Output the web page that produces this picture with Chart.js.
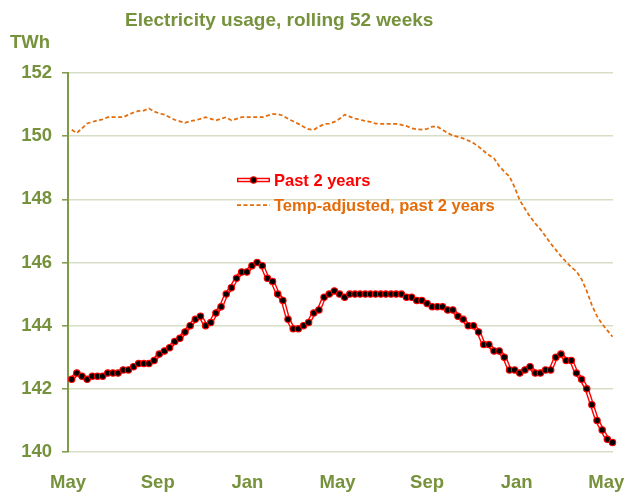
<!DOCTYPE html>
<html><head><meta charset="utf-8">
<script src="https://cdn.jsdelivr.net/npm/chart.js@4.4.1/dist/chart.umd.min.js"></script>
<style>
html,body{margin:0;padding:0;background:#fff;}
#wrap{position:relative;width:624px;height:492px;overflow:hidden;}
canvas{position:absolute;left:0;top:0;}
.t{position:absolute;font-family:"Liberation Sans",Arial,sans-serif;font-weight:bold;color:#76923C;white-space:nowrap;}
#title{left:125px;top:9px;font-size:19px;line-height:22px;}
#unit{left:10px;top:31px;font-size:18.5px;line-height:22px;}
</style></head><body>
<div id="wrap"><canvas id="c" width="624" height="492"></canvas>
<div class="t" id="title">Electricity usage, rolling 52 weeks</div>
<div class="t" id="unit">TWh</div></div>
<script>
// ---- data ----
const seriesNames = ['Past 2 years', 'Temp-adjusted, past 2 years'];
const actual = [142.3,142.5,142.4,142.3,142.4,142.4,142.4,142.5,142.5,142.5,
  142.6,142.6,142.7,142.8,142.8,142.8,142.9,143.1,143.2,143.3,
  143.5,143.6,143.8,144.0,144.2,144.3,144.0,144.1,144.4,144.6,
  145.0,145.2,145.5,145.7,145.7,145.9,146.0,145.9,145.5,145.4,
  145.0,144.8,144.2,143.9,143.9,144.0,144.1,144.4,144.5,144.9,
  145.0,145.1,145.0,144.9,145.0,145.0,145.0,145.0,145.0,145.0,
  145.0,145.0,145.0,145.0,145.0,144.9,144.9,144.8,144.8,144.7,
  144.6,144.6,144.6,144.5,144.5,144.3,144.2,144.0,144.0,143.8,
  143.4,143.4,143.2,143.2,143.0,142.6,142.6,142.5,142.6,142.7,
  142.5,142.5,142.6,142.6,143.0,143.1,142.9,142.9,142.5,142.3,
  142.0,141.5,141.0,140.7,140.4,140.3];
const tempAdjusted = [150.2,150.1,150.25,150.4,150.45,150.5,150.53,150.6,150.6,150.6,
  150.6,150.68,150.75,150.8,150.81,150.88,150.78,150.72,150.68,150.6,
  150.52,150.47,150.42,150.48,150.5,150.55,150.6,150.55,150.5,150.55,
  150.6,150.5,150.55,150.6,150.6,150.6,150.6,150.6,150.65,150.7,
  150.7,150.65,150.55,150.47,150.39,150.3,150.22,150.2,150.3,150.38,
  150.4,150.45,150.55,150.68,150.62,150.56,150.52,150.48,150.45,150.4,
  150.39,150.39,150.39,150.39,150.36,150.32,150.25,150.22,150.21,150.23,
  150.3,150.3,150.2,150.1,150.02,149.98,149.93,149.86,149.78,149.67,
  149.53,149.4,149.3,149.05,148.88,148.72,148.38,147.97,147.7,147.45,
  147.24,147.05,146.83,146.6,146.4,146.2,146.02,145.85,145.72,145.47,
  145.1,144.65,144.3,144.05,143.85,143.65];
const monthLabels = ['May','Sep','Jan','May','Sep','Jan','May'];
const monthWeek = [-0.7,16.7,34.1,51.6,69.0,86.4,103.8];
const yMin = 140, yMax = 152, yStep = 2;

// ---- styles ----
const OLIVE = '#76923C', AXIS = '#7F9A48', GRID = '#D7DEC5';
const RED = '#FF0000', ORANGE = '#E46C0A';
const FONT = '"Liberation Sans", Arial, sans-serif';

const toPts = arr => arr.map((v, i) => ({x: i, y: v}));

const legendPlugin = {
  id: 'inlineLegend',
  afterDraw(chart) {
    const ctx = chart.ctx;
    const ds = chart.data.datasets;
    const x0 = 237, x1 = 270, tx = 274;
    ctx.save();
    ctx.font = 'bold 16.5px ' + FONT;
    ctx.textBaseline = 'middle';
    ctx.textAlign = 'left';
    // item 1: double red line + dot
    let y = 180;
    ctx.setLineDash([]);
    ctx.strokeStyle = ds[1].borderColor; ctx.lineWidth = ds[1].borderWidth;
    ctx.beginPath(); ctx.moveTo(x0, y); ctx.lineTo(x1, y); ctx.stroke();
    ctx.strokeStyle = ds[0].borderColor; ctx.lineWidth = ds[0].borderWidth;
    ctx.beginPath(); ctx.moveTo(x0 + 1.5, y); ctx.lineTo(x1 - 1.5, y); ctx.stroke();
    ctx.beginPath(); ctx.arc((x0 + x1) / 2, y, ds[0].pointRadius, 0, Math.PI * 2);
    ctx.fillStyle = ds[0].pointBackgroundColor; ctx.fill();
    ctx.lineWidth = ds[0].pointBorderWidth; ctx.strokeStyle = ds[0].pointBorderColor; ctx.stroke();
    ctx.fillStyle = RED;
    ctx.fillText(ds[0].label, tx, y + 1);
    // item 2: orange dashed
    y = 205;
    ctx.strokeStyle = ds[2].borderColor; ctx.lineWidth = ds[2].borderWidth;
    ctx.setLineDash(ds[2].borderDash);
    ctx.beginPath(); ctx.moveTo(x0, y); ctx.lineTo(x1, y); ctx.stroke();
    ctx.setLineDash([]);
    ctx.fillStyle = ORANGE;
    ctx.fillText(ds[2].label, tx, y + 1);
    ctx.restore();
  }
};

new Chart(document.getElementById('c'), {
  type: 'line',
  data: {
    datasets: [
      { label: seriesNames[0], data: toPts(actual), borderColor: '#FFFFFF', borderWidth: 1.6,
        pointRadius: 3.2, pointHoverRadius: 3.2, pointBackgroundColor: '#000000',
        pointBorderColor: RED, pointBorderWidth: 1.1, tension: 0, clip: 8 },
      { label: seriesNames[0] + ' (outline)', data: toPts(actual), borderColor: RED, borderWidth: 4.4,
        pointRadius: 0, tension: 0, clip: 8 },
      { label: seriesNames[1], data: toPts(tempAdjusted), borderColor: ORANGE, borderWidth: 1.75,
        borderDash: [4, 2.5], pointRadius: 0, tension: 0, clip: 8 }
    ]
  },
  options: {
    responsive: false, animation: false, devicePixelRatio: 1,
    layout: { padding: { top: 73, right: 11, left: 0, bottom: 0 } },
    plugins: { legend: { display: false }, tooltip: { enabled: false }, title: { display: false } },
    scales: {
      x: {
        type: 'linear', min: -0.72, max: 105.1,
        grid: { display: false, drawTicks: false },
        border: { display: false },
        afterBuildTicks: s => { s.ticks = monthWeek.map(v => ({ value: v })); },
        afterFit: s => { s.height = 40; s.paddingLeft = 0; s.paddingRight = 0; },
        ticks: {
          autoSkip: false, maxRotation: 0, padding: 20,
          color: OLIVE, font: { family: FONT, size: 18.5, weight: 'bold' },
          callback: (v, i) => monthLabels[i]
        }
      },
      y: {
        min: yMin, max: yMax,
        afterFit: s => { s.width = 68; },
        grid: { color: GRID, lineWidth: 1.6, drawTicks: true, tickLength: 6, tickColor: AXIS, tickWidth: 1.5 },
        border: { display: true, color: AXIS, width: 2 },
        ticks: { stepSize: yStep, padding: 10, color: OLIVE,
          font: { family: FONT, size: 18.5, weight: 'bold' } }
      }
    }
  },
  plugins: [legendPlugin]
});
</script>
</body></html>
